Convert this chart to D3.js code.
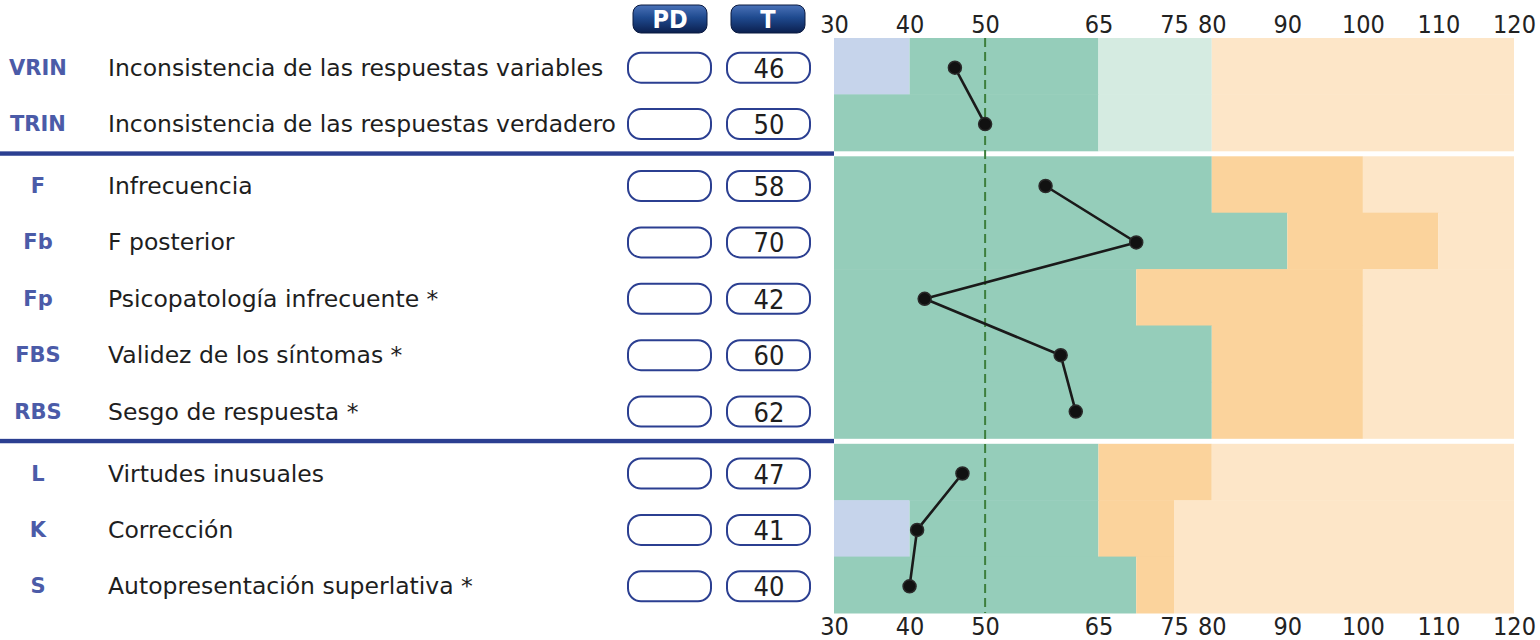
<!DOCTYPE html>
<html><head><meta charset="utf-8">
<script src="https://cdn.jsdelivr.net/npm/d3@7"></script>
<style>
html,body{margin:0;padding:0;background:#fff;}
svg{display:block;}
.lab{font-family:"DejaVu Sans","Open Sans",sans-serif;}
.ab{font-family:"DejaVu Sans","Open Sans",sans-serif;}
.num{font-family:"Liberation Sans Narrow","DejaVu Sans Condensed","DejaVu Sans",sans-serif;font-stretch:condensed;}
</style></head>
<body>
<svg id="c" width="1540" height="640"></svg>
<script>
const abbr = ["VRIN","TRIN","F","Fb","Fp","FBS","RBS","L","K","S"];
const names = ["Inconsistencia de las respuestas variables","Inconsistencia de las respuestas verdadero","Infrecuencia","F posterior","Psicopatología infrecuente *","Validez de los síntomas *","Sesgo de respuesta *","Virtudes inusuales","Corrección","Autopresentación superlativa *"];
const tScores = [46,50,58,70,42,60,62,47,41,40];
const sections = [0,0,1,1,1,1,1,2,2,2];
const tickValues = [30,40,50,65,75,80,90,100,110,120];
// band ranges per row: [from, to, zone]
const rowBands = [
  [[30,40,"low"],[40,65,"normal"],[65,80,"mid"],[80,120,"high"]],
  [[30,65,"normal"],[65,80,"mid"],[80,120,"high"]],
  [[30,80,"normal"],[80,100,"warn"],[100,120,"high"]],
  [[30,90,"normal"],[90,110,"warn"],[110,120,"high"]],
  [[30,70,"normal"],[70,100,"warn"],[100,120,"high"]],
  [[30,80,"normal"],[80,100,"warn"],[100,120,"high"]],
  [[30,80,"normal"],[80,100,"warn"],[100,120,"high"]],
  [[30,65,"normal"],[65,80,"warn"],[80,120,"high"]],
  [[30,40,"low"],[40,65,"normal"],[65,75,"warn"],[75,120,"high"]],
  [[30,70,"normal"],[70,75,"warn"],[75,120,"high"]]
];
const refLine = 50;

const zoneColor = {low:"#c6d4eb", normal:"#95cdba", mid:"#d5ebe1", warn:"#fbd39c", high:"#fde6c8"};
const svg = d3.select("#c");
const x = d3.scaleLinear().domain([30,120]).range([834,1514]);
const top0 = 38, rowH = 56.4, gap = 5.5;
const rowTop = i => top0 + i*rowH + sections[i]*gap;
const rowMid = i => rowTop(i) + rowH/2 + 1.5;

// bands
rowBands.forEach((bands,i)=>{
  svg.selectAll(null).data(bands).enter().append("rect")
    .attr("x",d=>x(d[0])).attr("width",d=>x(d[1])-x(d[0]))
    .attr("y",rowTop(i)).attr("height",rowH+0.5)
    .attr("fill",d=>zoneColor[d[2]]);
});

// separators (blue lines on left)
[2,7].forEach(i=>{
  svg.append("rect").attr("x",0).attr("width",834)
    .attr("y",rowTop(i)-gap/2-2.2).attr("height",4.4).attr("fill","#2b3f91");
});

// reference dashed line
svg.append("line").attr("x1",x(refLine)).attr("x2",x(refLine))
  .attr("y1",top0).attr("y2",rowTop(9)+rowH)
  .attr("stroke","#3d7f3d").attr("stroke-width",2).attr("stroke-dasharray","9,5");

// axes
const axTop = d3.axisTop(x).tickValues(tickValues).tickSize(0).tickPadding(0);
const gT = svg.append("g").attr("transform","translate(0,33)").call(axTop);
const axBot = d3.axisBottom(x).tickValues(tickValues).tickSize(0).tickPadding(0);
const gB = svg.append("g").attr("transform","translate(0,617)").call(axBot);
[gT,gB].forEach(g=>{
  g.select(".domain").remove();
  g.selectAll("text").attr("class","num").attr("font-size",25).attr("fill","#222");
});
gT.selectAll("text").attr("dy","0");
gB.selectAll("text").attr("dy","0.72em");

// header buttons
const defs = svg.append("defs");
const grad = defs.append("linearGradient").attr("id","btn").attr("x1",0).attr("x2",0).attr("y1",0).attr("y2",1);
grad.append("stop").attr("offset","0%").attr("stop-color","#4a72b8");
grad.append("stop").attr("offset","45%").attr("stop-color","#1f4a8f");
grad.append("stop").attr("offset","100%").attr("stop-color","#0b1f4e");
const headers = [{t:"PD",cx:670},{t:"T",cx:768}];
headers.forEach(h=>{
  svg.append("rect").attr("x",h.cx-37).attr("y",5).attr("width",74).attr("height",28)
    .attr("rx",8).attr("fill","url(#btn)").attr("stroke","#0b1a40").attr("stroke-width",1);
  svg.append("text").attr("class","num").attr("x",h.cx).attr("y",28).attr("text-anchor","middle")
    .attr("font-size",25).attr("font-weight","bold").attr("fill","#fff").text(h.t);
});

// row labels and boxes
abbr.forEach((a,i)=>{
  const cy = rowMid(i);
  svg.append("text").attr("class","ab").attr("x",38).attr("y",cy+7).attr("text-anchor","middle")
    .attr("font-size",21).attr("font-weight","bold").attr("fill","#4b5ba8").text(a);
  svg.append("text").attr("class","lab").attr("x",108).attr("y",cy+8)
    .attr("font-size",23.5).attr("fill","#1e1e1e").text(names[i]);
  svg.append("rect").attr("x",628).attr("y",cy-15).attr("width",83).attr("height",30)
    .attr("rx",13).attr("fill","#fff").attr("stroke","#2b3f91").attr("stroke-width",2);
  svg.append("rect").attr("x",727).attr("y",cy-15).attr("width",83).attr("height",30)
    .attr("rx",13).attr("fill","#fff").attr("stroke","#2b3f91").attr("stroke-width",2);
  svg.append("text").attr("class","num").attr("x",769).attr("y",cy+10).attr("text-anchor","middle")
    .attr("font-size",27).attr("fill","#1e1e1e").text(tScores[i]);
});

// profile lines per section
const line = d3.line().x(d=>x(d.v)).y(d=>rowMid(d.i));
const pts = tScores.map((v,i)=>({v,i,s:sections[i]}));
d3.groups(pts,d=>d.s).forEach(([s,arr])=>{
  svg.append("path").attr("d",line(arr)).attr("fill","none").attr("stroke","#1a1a1a").attr("stroke-width",2.6);
});
svg.selectAll(null).data(pts).enter().append("circle")
  .attr("cx",d=>x(d.v)).attr("cy",d=>rowMid(d.i)).attr("r",6.5).attr("fill","#111")
  .attr("stroke","#2a2a2a").attr("stroke-width",1.5);
</script>
</body></html>
